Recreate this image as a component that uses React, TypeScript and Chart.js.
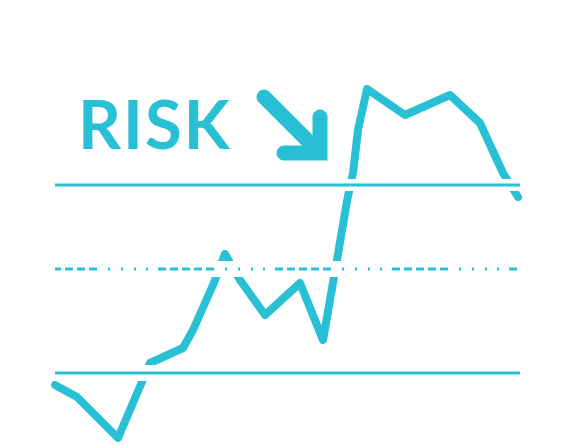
import React, { useEffect, useRef } from "react";
import { Chart, registerables } from "chart.js";

Chart.register(...registerables);

// time index (x) and risk level (y)
const timeSteps = [0, 4.4, 12.6, 19, 25.6, 27.6, 31.6, 34, 37, 42, 49, 53.6, 56.4, 58.4, 59.6, 60.6, 62.4, 70, 79, 85, 89.6, 92.6];
const riskLevel = [15, 12, 1.75, 20.5, 24.25, 28.75, 40, 47.75, 41.25, 32.5, 40.5, 26.25, 46.25, 61, 68, 78.75, 89, 82.5, 87.5, 80.5, 68, 62];

const upperLimit = 65;
const midLevel = 44;
const lowerLimit = 18;
const label = "RISK";

const COLOR = "#29C0D6";

const overlayPlugin = {
  id: "overlay",
  afterDatasetsDraw(chart: any) {
    const { ctx, chartArea, scales } = chart;
    const ys = scales.y;
    const left = chartArea.left;
    const right = chartArea.right;
    ctx.save();
    const lines = [
      { v: upperLimit, dashed: false, gap: 6 },
      { v: midLevel, dashed: true, gap: 8 },
      { v: lowerLimit, dashed: false, gap: 8 },
    ];
    for (const l of lines) {
      const y = ys.getPixelForValue(l.v);
      ctx.fillStyle = "#ffffff";
      ctx.fillRect(left - 4, y - l.gap, right - left + 8, l.gap * 2);
      ctx.beginPath();
      ctx.strokeStyle = COLOR;
      ctx.lineWidth = 3;
      ctx.lineCap = "butt";
      if (l.dashed) {
        ctx.setLineDash([8, 4, 8, 4, 8, 4, 8, 4, 8, 11, 2, 11, 2, 11, 2, 10, 2, 10]);
        ctx.lineDashOffset = 14;
      } else {
        ctx.setLineDash([]);
      }
      ctx.moveTo(left, y);
      ctx.lineTo(right, y);
      ctx.stroke();
    }
    ctx.setLineDash([]);

    // label
    const yTop = ys.getPixelForValue(upperLimit);
    ctx.fillStyle = COLOR;
    ctx.font = "bold 67px Lato";
    try { (ctx as any).letterSpacing = "2px"; } catch (e) {}
    ctx.textBaseline = "alphabetic";
    ctx.textAlign = "left";
    ctx.fillText(label, left + 23, yTop - 36);
    try { (ctx as any).letterSpacing = "0px"; } catch (e) {}

    // arrow
    const ax = left + 265;
    const ay = yTop - 32;
    ctx.strokeStyle = COLOR;
    ctx.lineWidth = 15;
    ctx.lineCap = "round";
    ctx.lineJoin = "miter";
    ctx.beginPath();
    ctx.moveTo(ax - 56, ay - 56);
    ctx.lineTo(ax - 4, ay - 4);
    ctx.stroke();
    ctx.beginPath();
    ctx.moveTo(ax - 36, ay);
    ctx.lineTo(ax, ay);
    ctx.lineTo(ax, ay - 36);
    ctx.stroke();
    ctx.restore();
  },
};

export default function App() {
  const ref = useRef<HTMLCanvasElement | null>(null);
  useEffect(() => {
    if (!ref.current) return;
    const chart = new Chart(ref.current, {
      type: "line",
      data: {
        datasets: [
          {
            data: timeSteps.map((t, i) => ({ x: t, y: riskLevel[i] })),
            borderColor: COLOR,
            borderWidth: 8,
            pointRadius: 0,
            tension: 0,
            borderJoinStyle: "round",
            borderCapStyle: "round",
            clip: false,
          } as any,
        ],
      },
      options: {
        animation: false,
        responsive: false,
        devicePixelRatio: 1,
        layout: { padding: { left: 55, right: 52, top: 45, bottom: 0 } },
        plugins: { legend: { display: false }, tooltip: { enabled: false } },
        scales: {
          x: { type: "linear", min: 0, max: 93, display: false },
          y: { min: 0, max: 100, display: false },
        },
      },
      plugins: [overlayPlugin],
    });
    return () => chart.destroy();
  }, []);
  return (
    <div style={{ position: "absolute", left: 0, top: 0, width: 572, height: 445, background: "#fff" }}>
      <canvas ref={ref} width={572} height={445} />
    </div>
  );
}
